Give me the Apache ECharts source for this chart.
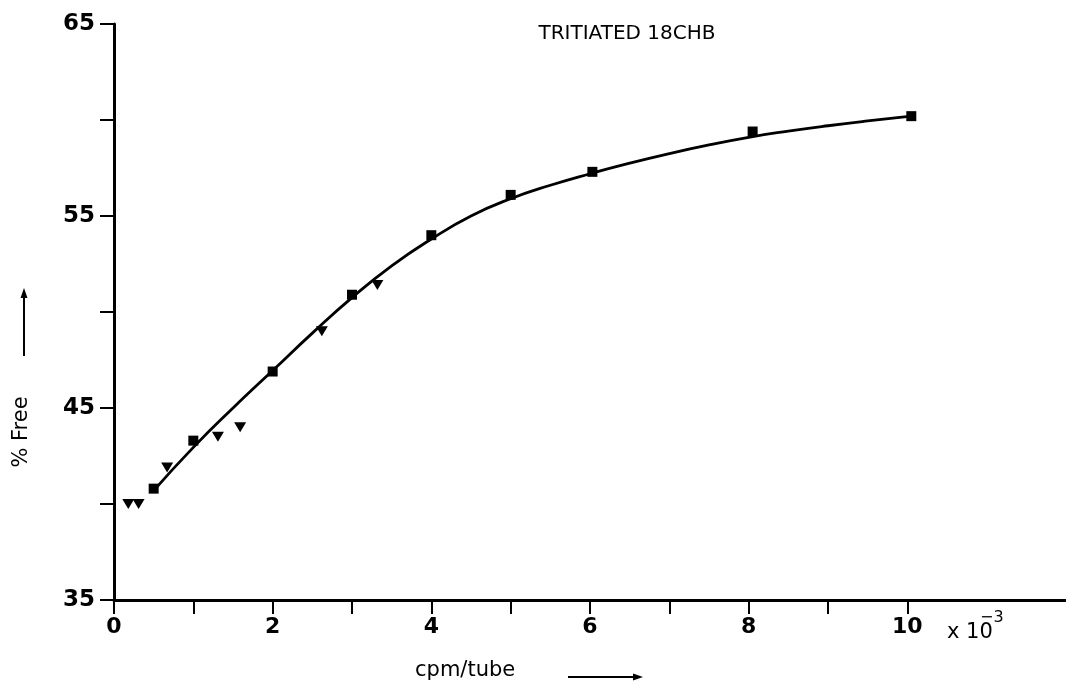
<!DOCTYPE html>
<html>
<head>
<meta charset="utf-8">
<script src="https://cdn.jsdelivr.net/npm/echarts@6/dist/echarts.min.js"></script>
<style>
html,body{margin:0;padding:0;background:#fff;}
#chart{width:1066px;height:692px;}
</style>
</head>
<body>
<div id="chart"></div>
<script>
// ---- data ----
const titleText = 'TRITIATED 18CHB';
const xName = 'cpm/tube';
const yName = '% Free';
const xTickValues = [0,1,2,3,4,5,6,7,8,9,10];
const xLabelValues = [0,2,4,6,8,10];
const yLabelValues = [35,45,55,65];

// squares (filled)
const squareX = [0.5, 1.0, 2.0, 3.0, 4.0, 5.0, 6.03, 8.05, 10.05];
const squareY = [40.8, 43.3, 46.9, 50.9, 54.0, 56.1, 57.3, 59.4, 60.2];

// inverted triangles
const triX = [0.18, 0.31, 0.67, 1.31, 1.59, 2.62, 3.32];
const triY = [40.0, 40.0, 41.9, 43.5, 44.0, 49.0, 51.4];

// fitted curve
const curveX = [0.5, 1.0, 1.5, 2.0, 2.5, 3.0, 3.5, 4.0, 4.5, 5.0, 5.5, 6.0, 6.5, 7.0, 7.5, 8.0, 8.5, 9.0, 9.5, 10.05];
const curveY = [40.7, 42.95, 45.0, 46.95, 48.9, 50.75, 52.4, 53.8, 55.0, 55.9, 56.6, 57.2, 57.75, 58.25, 58.7, 59.1, 59.42, 59.7, 59.95, 60.2];

const zip = (a, b) => a.map((v, i) => [v, b[i]]);

const chart = echarts.init(document.getElementById('chart'), null, {renderer: 'canvas'});
const FONT = 'DejaVu Sans';

chart.setOption({
  backgroundColor: '#fff',
  animation: false,
  title: {
    text: titleText,
    left: 627,
    textAlign: 'center',
    top: 24,
    padding: 0,
    textStyle: {fontFamily: FONT, fontSize: 20, fontWeight: 'normal', color: '#000'}
  },
  grid: {left: 114, right: 0, top: 24, bottom: 92, containLabel: false, outerBoundsMode: 'none'},
  xAxis: {
    type: 'value', min: 0, max: 12, interval: 1,
    axisLine: {show: true, lineStyle: {color: '#000', width: 3}},
    axisTick: {show: true, inside: false, length: 14, customValues: xTickValues, lineStyle: {color: '#000', width: 2}},
    axisLabel: {show: true, customValues: xLabelValues, margin: 16, color: '#000',
      fontFamily: FONT, fontSize: 22, fontWeight: 'bold'},
    splitLine: {show: false}
  },
  yAxis: {
    type: 'value', min: 35, max: 65, interval: 5,
    axisLine: {show: true, lineStyle: {color: '#000', width: 3}},
    axisTick: {show: true, inside: false, length: 14, lineStyle: {color: '#000', width: 2}},
    axisLabel: {show: true, customValues: yLabelValues, margin: 19, color: '#000',
      fontFamily: FONT, fontSize: 23, fontWeight: 'bold'},
    splitLine: {show: false}
  },
  series: [
    {
      type: 'line', data: zip(curveX, curveY), smooth: 0.5, showSymbol: false,
      lineStyle: {color: '#000', width: 2.8}, z: 2
    },
    {
      type: 'scatter', data: zip(squareX, squareY), symbol: 'rect', symbolSize: 10,
      itemStyle: {color: '#000', opacity: 1}, z: 3
    },
    {
      type: 'scatter', data: zip(triX, triY), symbol: 'triangle', symbolRotate: 180,
      symbolSize: [12, 10], itemStyle: {color: '#000', opacity: 1}, z: 3
    }
  ],
  graphic: [
    {type: 'text', x: 415, y: 671, style: {text: xName, fontFamily: FONT, fontSize: 21,
      fill: '#000', align: 'left', verticalAlign: 'middle'}},
    {type: 'line', shape: {x1: 568, y1: 677, x2: 636, y2: 677}, style: {stroke: '#000', lineWidth: 2}},
    {type: 'polygon', shape: {points: [[643, 677], [633, 673.5], [633, 680.5]]}, style: {fill: '#000'}},
    {type: 'text', x: 22, y: 432, rotation: Math.PI / 2, style: {text: yName, fontFamily: FONT, fontSize: 21,
      fill: '#000', align: 'center', verticalAlign: 'middle'}},
    {type: 'line', shape: {x1: 24, y1: 356, x2: 24, y2: 295}, style: {stroke: '#000', lineWidth: 2}},
    {type: 'polygon', shape: {points: [[24, 288], [20.5, 298], [27.5, 298]]}, style: {fill: '#000'}},
    {type: 'text', x: 947, y: 633, style: {text: 'x 10', fontFamily: FONT, fontSize: 21,
      fill: '#000', align: 'left', verticalAlign: 'middle'}},
    {type: 'text', x: 980, y: 618, style: {text: '\u22123', fontFamily: FONT, fontSize: 16,
      fill: '#000', align: 'left', verticalAlign: 'middle'}}
  ]
});
</script>
</body>
</html>
